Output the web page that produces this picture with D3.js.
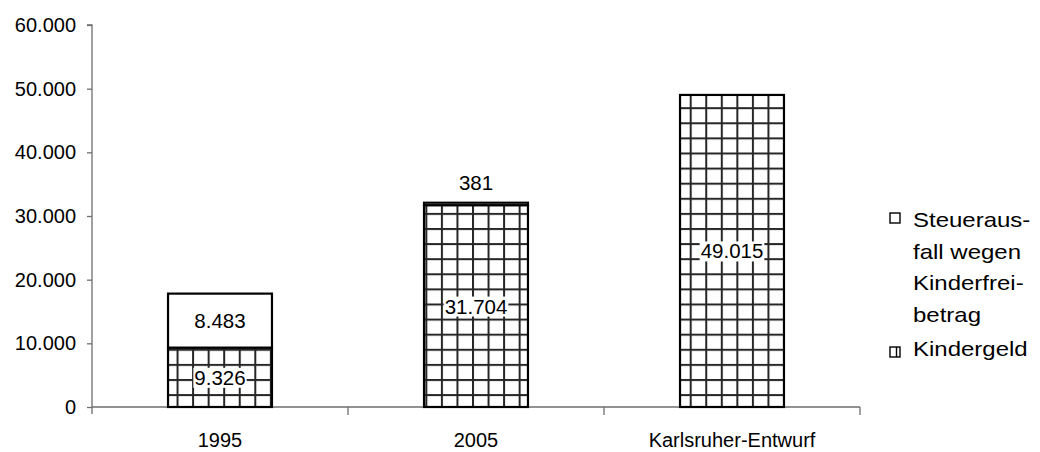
<!DOCTYPE html>
<html>
<head>
<meta charset="utf-8">
<script src="https://cdn.jsdelivr.net/npm/d3@7"></script>
<style>
  html, body { margin: 0; padding: 0; background: #fff; }
  svg { display: block; font-family: "Liberation Sans", Arial, sans-serif; }
</style>
</head>
<body>
<svg id="chart" width="1040" height="452"></svg>
<script>
// Chart data (Mio. €)
const categories = ["1995", "2005", "Karlsruher-Entwurf"];
const kindergeld = [9326, 31704, 49015];
const steuerausfall = [8483, 381, 0];
const yTicks = [0, 10000, 20000, 30000, 40000, 50000, 60000];
const legendSteuer = ["Steueraus-", "fall wegen", "Kinderfrei-", "betrag"];
const legendKindergeld = "Kindergeld";

const de = d3.formatLocale({ decimal: ",", thousands: ".", grouping: [3], currency: ["", " €"] });
const fmt = de.format(",");

const svg = d3.select("#chart");
const plot = { left: 92, right: 860, top: 25, bottom: 407 };

const x = d3.scaleBand()
  .domain(categories)
  .range([plot.left, plot.right])
  .paddingInner(0.594)
  .paddingOuter(0.297);

const y = d3.scaleLinear()
  .domain([0, 60000])
  .range([plot.bottom, plot.top]);

// Grid hatch used for the Kindergeld segments
const defs = svg.append("defs");
const pat = defs.append("pattern")
  .attr("id", "grid")
  .attr("patternUnits", "userSpaceOnUse")
  .attr("x", 5.5).attr("y", 1.5)
  .attr("width", 15.55).attr("height", 15.1);
pat.append("rect").attr("width", 15.55).attr("height", 15.1).attr("fill", "#fff");
pat.append("rect").attr("x", 0).attr("y", 0).attr("width", 2).attr("height", 15.1).attr("fill", "#262626");
pat.append("rect").attr("x", 0).attr("y", 0).attr("width", 15.55).attr("height", 2).attr("fill", "#262626");

const stacks = categories.map((c, i) => ({
  cat: c,
  k: kindergeld[i],
  s: steuerausfall[i]
}));

// Axes
const yAxis = svg.append("g")
  .attr("transform", `translate(${plot.left},0)`)
  .call(d3.axisLeft(y).tickValues(yTicks).tickSize(5).tickPadding(11).tickFormat(fmt));
yAxis.select(".domain").attr("stroke", "#6e6e6e").attr("stroke-width", 1.3)
  .attr("d", `M-5,${plot.top}H0V${plot.bottom + 7}`);
yAxis.selectAll(".tick line").attr("stroke", "#6e6e6e").attr("stroke-width", 1.3);
yAxis.selectAll(".tick text").attr("fill", "#000").attr("font-size", "20px")
  .attr("font-family", "Liberation Sans, Arial, sans-serif");

const xAxis = svg.append("g");
xAxis.append("line")
  .attr("x1", plot.left).attr("x2", plot.right)
  .attr("y1", plot.bottom).attr("y2", plot.bottom)
  .attr("stroke", "#6e6e6e").attr("stroke-width", 1.3);
const boundaries = d3.range(categories.length + 1).map(i => plot.left + i * x.step());
xAxis.selectAll("line.tick").data(boundaries.slice(1)).join("line")
  .attr("class", "tick")
  .attr("x1", d => d).attr("x2", d => d)
  .attr("y1", plot.bottom).attr("y2", plot.bottom + 8)
  .attr("stroke", "#6e6e6e").attr("stroke-width", 1.3);
xAxis.selectAll("text").data(categories).join("text")
  .attr("x", d => x(d) + x.bandwidth() / 2)
  .attr("y", plot.bottom + 40)
  .attr("text-anchor", "middle")
  .attr("font-size", "20px")
  .text(d => d);

// Bars
const bars = svg.append("g");
stacks.forEach(d => {
  const bx = x(d.cat), bw = x.bandwidth();
  bars.append("rect")
    .attr("x", bx).attr("y", y(d.k))
    .attr("width", bw).attr("height", y(0) - y(d.k))
    .attr("fill", "url(#grid)")
    .attr("stroke", "#000").attr("stroke-width", 2.2);
  if (d.s > 0) {
    bars.append("rect")
      .attr("x", bx).attr("y", y(d.k + d.s))
      .attr("width", bw).attr("height", y(d.k) - y(d.k + d.s))
      .attr("fill", "#fff")
      .attr("stroke", "#000").attr("stroke-width", 2.2);
  }
});

// Value labels
const labels = svg.append("g").attr("font-size", "20.5px");
function valueLabel(cx, cy, value, boxed) {
  const g = labels.append("g");
  const t = g.append("text")
    .attr("x", cx).attr("y", cy)
    .attr("text-anchor", "middle")
    .attr("dominant-baseline", "central")
    .text(fmt(value));
  if (boxed) {
    const b = t.node().getBBox();
    g.insert("rect", "text")
      .attr("x", b.x - 1).attr("y", b.y + 2)
      .attr("width", b.width + 2).attr("height", b.height - 3)
      .attr("fill", "#fff");
  }
}
stacks.forEach(d => {
  const cx = x(d.cat) + x.bandwidth() / 2;
  valueLabel(cx, (y(0) + y(d.k)) / 2, d.k, true);
  if (d.s > 0) {
    const h = y(d.k) - y(d.k + d.s);
    if (h > 24) valueLabel(cx, (y(d.k) + y(d.k + d.s)) / 2, d.s, false);
    else valueLabel(cx, y(d.k + d.s) - 20, d.s, false);
  }
});

// Legend
const legend = svg.append("g").attr("font-size", "20px");
const lx = 890, tx = 913;
legend.append("rect")
  .attr("x", lx).attr("y", 213).attr("width", 10).attr("height", 10)
  .attr("fill", "#fff").attr("stroke", "#000").attr("stroke-width", 1.4);
legendSteuer.forEach((line, i) => {
  legend.append("text")
    .attr("transform", `translate(${tx},${227 + i * 31.7}) scale(1.2,1)`)
    .text(line);
});
legend.append("rect")
  .attr("x", lx).attr("y", 347).attr("width", 10).attr("height", 10)
  .attr("fill", "#fff").attr("stroke", "#000").attr("stroke-width", 1.4);
legend.append("line")
  .attr("x1", lx + 6.5).attr("x2", lx + 6.5).attr("y1", 347).attr("y2", 357)
  .attr("stroke", "#000").attr("stroke-width", 1.4);
legend.append("text")
  .attr("transform", `translate(${tx},356) scale(1.2,1)`)
  .text(legendKindergeld);
</script>
</body>
</html>
